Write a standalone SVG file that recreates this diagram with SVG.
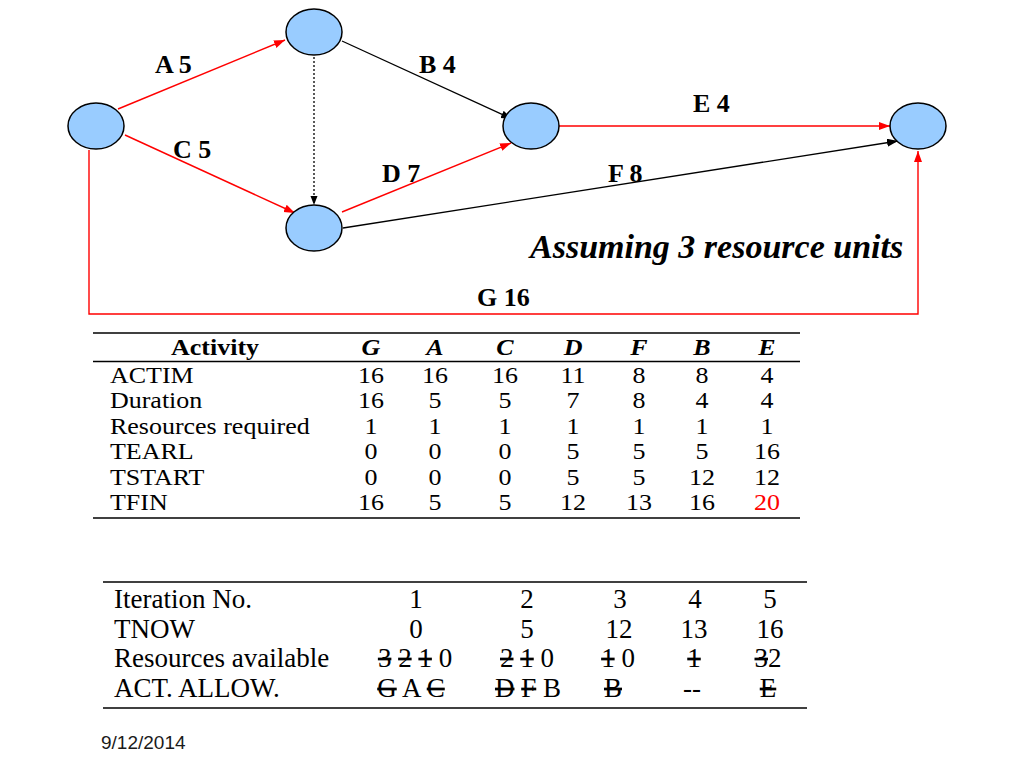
<svg xmlns="http://www.w3.org/2000/svg" width="1024" height="768" viewBox="0 0 1024 768">
<style>
.node{fill:#99CCFF;stroke:#000;stroke-width:1.5}
.er{fill:none;stroke:#FF0000;stroke-width:1.4}
.eb{fill:none;stroke:#000;stroke-width:1.3}
.lbl{font-family:"Liberation Serif","Times New Roman",serif;font-weight:bold;font-size:26px;fill:#000}
.t1{font-family:"Liberation Serif","Times New Roman",serif;font-size:23px;fill:#000}
.t1h{font-family:"Liberation Serif","Times New Roman",serif;font-size:23px;font-weight:bold;fill:#000}
.t2{font-family:"Liberation Serif","Times New Roman",serif;font-size:27px;fill:#000}
.s{text-decoration:line-through}
.rule{stroke:#000;stroke-width:1.4}
</style>
<defs>
<marker id="ar" markerUnits="userSpaceOnUse" markerWidth="12" markerHeight="10" refX="11" refY="4" orient="auto"><path d="M0,0 L11,4 L0,8 z" fill="#FF0000"/></marker>
<marker id="ab" markerUnits="userSpaceOnUse" markerWidth="12" markerHeight="10" refX="11" refY="4" orient="auto"><path d="M0,0 L11,4 L0,8 z" fill="#000"/></marker>
<marker id="abs" markerUnits="userSpaceOnUse" markerWidth="10" markerHeight="10" refX="9" refY="3.5" orient="auto"><path d="M0,0 L9,3.5 L0,7 z" fill="#000"/></marker>
</defs>
<rect width="1024" height="768" fill="#fff"/>
<g id="connectors">
<line id="eA" class="er" x1="118" y1="109" x2="285" y2="40" marker-end="url(#ar)"/>
<line id="eC" class="er" x1="125" y1="135" x2="295" y2="213" marker-end="url(#ar)"/>
<line id="eB" class="eb" x1="342" y1="41" x2="512" y2="119" marker-end="url(#ab)"/>
<line id="eD" class="er" x1="342" y1="212" x2="511" y2="143" marker-end="url(#ar)"/>
<line id="eDummy" class="eb" x1="314" y1="57" x2="314" y2="205" stroke-dasharray="2,2" marker-end="url(#abs)"/>
<line id="eE" class="er" x1="559" y1="126" x2="890" y2="126" marker-end="url(#ar)"/>
<line id="eF" class="eb" x1="343" y1="228" x2="898" y2="141" marker-end="url(#ab)"/>
<polyline id="eG" class="er" points="89,150 89,314 918,314 918,151" marker-end="url(#ar)"/>
</g>
<g id="n1"><ellipse class="node" cx="96" cy="126" rx="28" ry="23"/></g>
<g id="n2"><ellipse class="node" cx="314" cy="32" rx="28" ry="23"/></g>
<g id="n3"><ellipse class="node" cx="314" cy="228" rx="28" ry="23"/></g>
<g id="n4"><ellipse class="node" cx="531" cy="126" rx="28" ry="23"/></g>
<g id="n5"><ellipse class="node" cx="918" cy="126" rx="28" ry="23"/></g>
<g id="labels">
<text class="lbl" x="155" y="73">A 5</text>
<text class="lbl" x="419" y="73">B 4</text>
<text class="lbl" x="173" y="158">C 5</text>
<text class="lbl" x="382" y="182">D 7</text>
<text class="lbl" x="693" y="112">E 4</text>
<text class="lbl" x="608" y="182">F 8</text>
<text class="lbl" x="477" y="306">G 16</text>
<text x="530" y="258" font-family="Liberation Serif, Times New Roman, serif" font-size="34" font-weight="bold" font-style="italic">Assuming 3 resource units</text>
</g>
<g id="table1">
<line class="rule" x1="93" y1="333" x2="800" y2="333"/>
<line class="rule" x1="93" y1="361.5" x2="800" y2="361.5" stroke-width="1"/>
<line class="rule" x1="93" y1="518" x2="800" y2="518"/>
<g transform="scale(1.13,1)">
<text class="t1h" x="190.3" y="355" text-anchor="middle">Activity</text>
<g class="t1h" font-style="italic" text-anchor="middle">
<text x="328.3" y="355">G</text><text x="385" y="355">A</text><text x="446.9" y="355">C</text><text x="507.1" y="355">D</text><text x="565.5" y="355">F</text><text x="621.2" y="355">B</text><text x="678.8" y="355">E</text>
</g>
<g class="t1">
<text x="97.3" y="383">ACTIM</text>
<text x="97.3" y="408.5">Duration</text>
<text x="97.3" y="434">Resources required</text>
<text x="97.3" y="459.5">TEARL</text>
<text x="97.3" y="485">TSTART</text>
<text x="97.3" y="510.5">TFIN</text>
</g>
<g class="t1" text-anchor="middle">
<text x="328.3" y="383">16</text><text x="385" y="383">16</text><text x="446.9" y="383">16</text><text x="507.1" y="383">11</text><text x="565.5" y="383">8</text><text x="621.2" y="383">8</text><text x="678.8" y="383">4</text>
<text x="328.3" y="408.5">16</text><text x="385" y="408.5">5</text><text x="446.9" y="408.5">5</text><text x="507.1" y="408.5">7</text><text x="565.5" y="408.5">8</text><text x="621.2" y="408.5">4</text><text x="678.8" y="408.5">4</text>
<text x="328.3" y="434">1</text><text x="385" y="434">1</text><text x="446.9" y="434">1</text><text x="507.1" y="434">1</text><text x="565.5" y="434">1</text><text x="621.2" y="434">1</text><text x="678.8" y="434">1</text>
<text x="328.3" y="459.5">0</text><text x="385" y="459.5">0</text><text x="446.9" y="459.5">0</text><text x="507.1" y="459.5">5</text><text x="565.5" y="459.5">5</text><text x="621.2" y="459.5">5</text><text x="678.8" y="459.5">16</text>
<text x="328.3" y="485">0</text><text x="385" y="485">0</text><text x="446.9" y="485">0</text><text x="507.1" y="485">5</text><text x="565.5" y="485">5</text><text x="621.2" y="485">12</text><text x="678.8" y="485">12</text>
<text x="328.3" y="510.5">16</text><text x="385" y="510.5">5</text><text x="446.9" y="510.5">5</text><text x="507.1" y="510.5">12</text><text x="565.5" y="510.5">13</text><text x="621.2" y="510.5">16</text><text x="678.8" y="510.5" fill="#FF0000">20</text>
</g>
</g>
</g>
<g id="table2">
<line class="rule" x1="103" y1="582" x2="807" y2="582"/>
<line class="rule" x1="103" y1="708" x2="807" y2="708"/>
<g class="t2">
<text x="114" y="608">Iteration No.</text>
<text x="114" y="638">TNOW</text>
<text x="114" y="667">Resources available</text>
<text x="114" y="697">ACT. ALLOW.</text>
</g>
<g class="t2" text-anchor="middle">
<text x="416" y="608">1</text><text x="527" y="608">2</text><text x="620" y="608">3</text><text x="695" y="608">4</text><text x="770" y="608">5</text>
<text x="416" y="638">0</text><text x="527" y="638">5</text><text x="619" y="638">12</text><text x="694" y="638">13</text><text x="770" y="638">16</text>
<text x="415" y="667"><tspan class="s">3</tspan> <tspan class="s">2</tspan> <tspan class="s">1</tspan> 0</text>
<text x="527" y="667"><tspan class="s">2</tspan> <tspan class="s">1</tspan> 0</text>
<text x="618" y="667"><tspan class="s">1</tspan> 0</text>
<text x="694" y="667"><tspan class="s">1</tspan></text>
<text x="768" y="667"><tspan class="s">3</tspan>2</text>
<text x="411" y="697"><tspan class="s">G</tspan> A <tspan class="s">C</tspan></text>
<text x="528" y="697"><tspan class="s">D</tspan> <tspan class="s">F</tspan> B</text>
<text x="613" y="697"><tspan class="s">B</tspan></text>
<text x="692" y="697">--</text>
<text x="768" y="697"><tspan class="s">E</tspan></text>
</g>
</g>
<text id="date" x="101" y="749" font-family="Liberation Sans, Arial, sans-serif" font-size="19" fill="#1a1a1a">9/12/2014</text>
</svg>
